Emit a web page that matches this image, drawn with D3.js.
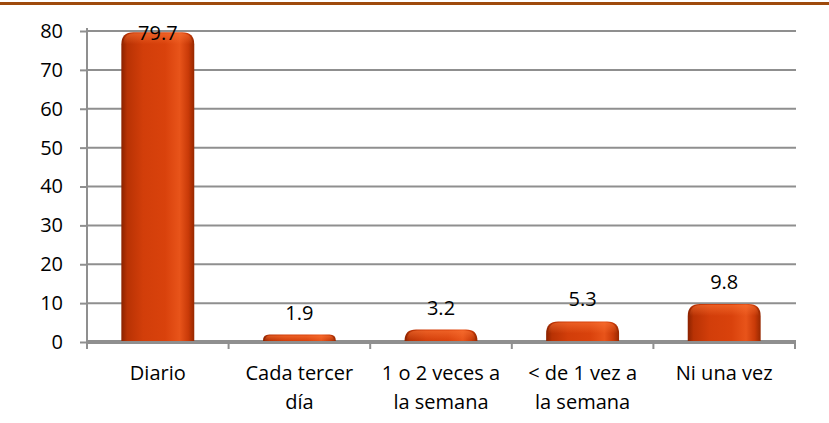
<!DOCTYPE html>
<html><head><meta charset="utf-8">
<script src="https://cdn.jsdelivr.net/npm/d3@7"></script>
<style>body{margin:0;background:#fff}svg{display:block}text{font-family:"Open Sans",Lato,sans-serif;fill:#000}</style>
</head><body><svg id="c" width="829" height="423"></svg>
<script>
const categories = [["Diario"],["Cada tercer","día"],["1 o 2 veces a","la semana"],["< de 1 vez a","la semana"],["Ni una vez"]];
const values = [79.7, 1.9, 3.2, 5.3, 9.8];
const yTicks = [0,10,20,30,40,50,60,70,80];

(function(){
const svg = d3.select("#c");
const W = 829, H = 423, FS = 20;
const mLeft = 87, mRight = 795, mTop = 31, mBottom = 342;

svg.append("line").attr("x1",0).attr("x2",W).attr("y1",3.5).attr("y2",3.5).attr("stroke","#9E4A0C").attr("stroke-width",3);

const x = d3.scaleBand().domain(d3.range(values.length)).range([mLeft,mRight]).paddingInner(0.485).paddingOuter(0.2425);
const xb = d3.scaleBand().domain(d3.range(values.length)).range([mLeft,mRight]);
const y = d3.scaleLinear().domain([0,80]).range([mBottom,mTop]);

const defs = svg.append("defs");
const g = defs.append("linearGradient").attr("id","bar").attr("x1","0").attr("x2","1").attr("y1","0").attr("y2","0");
[[0,"#8a2200"],[0.08,"#b83204"],[0.3,"#d23e0a"],[0.6,"#d9420c"],[0.8,"#e8541a"],[0.92,"#c93a08"],[1,"#962800"]].forEach(s=>g.append("stop").attr("offset",s[0]).attr("stop-color",s[1]));
const gt = defs.append("linearGradient").attr("id","topg").attr("x1","0").attr("x2","0").attr("y1","0").attr("y2","1");
[[0,"#ff7a3a",0.55],[1,"#ff7a3a",0]].forEach(s=>gt.append("stop").attr("offset",s[0]).attr("stop-color",s[1]).attr("stop-opacity",s[2]));

svg.append("g").selectAll("line").data(yTicks.filter(d=>d>0)).join("line")
  .attr("x1",mLeft).attr("x2",mRight+1).attr("y1",d=>y(d)).attr("y2",d=>y(d))
  .attr("stroke","#8f8f8f").attr("stroke-width",2);

const ya = svg.append("g").attr("transform",`translate(${mLeft},0)`).call(d3.axisLeft(y).tickValues(yTicks).tickSize(7).tickPadding(17));
ya.select(".domain").attr("stroke","#8f8f8f").attr("stroke-width",2).attr("d",`M0,${mTop-3}V${mBottom+6}`);
ya.selectAll(".tick line").attr("stroke","#8f8f8f").attr("stroke-width",2);
ya.selectAll(".tick text").attr("font-size",FS).attr("font-family","'Open Sans',Lato,sans-serif").attr("fill","#000");

svg.append("line").attr("x1",mLeft).attr("x2",mRight+1).attr("y1",mBottom).attr("y2",mBottom).attr("stroke","#8f8f8f").attr("stroke-width",4);
svg.append("g").selectAll("line").data(d3.range(values.length+1)).join("line")
  .attr("x1",i=>i<values.length?xb(i):mRight).attr("x2",i=>i<values.length?xb(i):mRight)
  .attr("y1",mBottom).attr("y2",mBottom+7).attr("stroke","#8f8f8f").attr("stroke-width",2);

function barPath(x0,w,yt,yb){
  const h=yb-yt, r=Math.min(12,h,w/2);
  return `M${x0},${yb}V${yt+r}Q${x0},${yt} ${x0+r},${yt}H${x0+w-r}Q${x0+w},${yt} ${x0+w},${yt+r}V${yb}Z`;
}
const bars = svg.append("g");
bars.selectAll("path.b").data(values).join("path").attr("class","b")
  .attr("d",(d,i)=>barPath(x(i),x.bandwidth(),y(d),mBottom-1)).attr("fill","url(#bar)");
bars.selectAll("path.t").data(values).join("path").attr("class","t")
  .attr("d",(d,i)=>barPath(x(i)+2,x.bandwidth()-4,y(d)+1,Math.min(y(d)+12,mBottom-1))).attr("fill","url(#topg)");

svg.append("g").selectAll("text").data(values).join("text")
  .attr("x",(d,i)=>x(i)+x.bandwidth()/2).attr("y",d=>Math.max(y(d)-22,33)).attr("dy","0.35em")
  .attr("text-anchor","middle").attr("font-size",FS).text(d=>d.toFixed(1));

const cl = svg.append("g").selectAll("text").data(categories).join("text")
  .attr("x",(d,i)=>xb(i)+xb.bandwidth()/2).attr("y",373).attr("text-anchor","middle").attr("font-size",FS);
cl.selectAll("tspan").data(d=>d).join("tspan").attr("x",function(){return this.parentNode.getAttribute("x");})
  .attr("dy",(d,j)=>j===0?"0.35em":"29px").text(d=>d);
})();
</script></body></html>
